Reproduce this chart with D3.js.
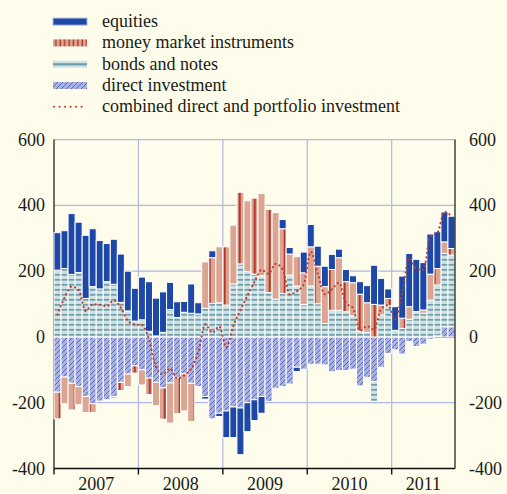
<!DOCTYPE html>
<html><head><meta charset="utf-8">
<script src="https://cdn.jsdelivr.net/npm/d3@7"></script>
<style>
html,body{margin:0;padding:0;background:#fefdeb;}
svg{display:block;}
text{font-family:"Liberation Serif","Times New Roman",serif;}
</style></head><body>
<svg id="c" width="507" height="494"></svg>
<script>
// ---- data (USD bn, monthly, Jan 2007 - Sep 2011) ----
const years = ["2007","2008","2009","2010","2011"];
const monthsPerYear = [12,12,12,12,9];
const equities = [114,115,185,153,192,176,147,116,137,147,121,100,
  130,151,115,123,83,48,33,89,34,-8,21,-10,
  -81,-93,-142,-88,-63,-51,0,0,28,20,-13,63,
  68,61,62,46,26,37,21,38,52,119,81,29,
  72,128,162,159,144,122,112,91,98];
const moneyMarket = [-81,-81,-81,-55,-49,-27,0,0,-5,-25,-38,-22,
  -46,-50,-71,-95,-122,-110,-113,-116,0,141,139,170,
  177,179,218,215,231,250,253,263,197,64,89,96,
  119,114,112,124,160,91,101,112,90,99,30,22,
  0,31,38,0,10,79,50,35,20];
const bondsNotes = [203,208,190,196,117,153,146,168,160,105,79,48,
  52,17,3,14,83,59,75,72,70,87,102,104,
  97,161,222,199,191,186,135,115,132,188,155,99,
  155,101,41,81,81,77,64,18,14,-60,67,95,
  20,26,54,77,72,112,155,223,218];
const directInv = [-168,-122,-141,-151,-181,-203,-195,-191,-181,-138,-113,-88,
  -100,-125,-138,-155,-140,-123,-112,-141,-151,-181,-249,-232,
  -225,-213,-216,-200,-191,-181,-196,-156,-151,-143,-92,-98,
  -83,-83,-85,-106,-102,-102,-98,-149,-123,-136,-92,-50,
  -39,-52,-14,-29,-22,-7,3,31,31];
const combined = [68,120,153,143,79,99,98,93,111,89,49,38,
  36,-7,-91,-113,-96,-126,-117,-96,-47,39,13,32,
  -32,34,82,126,168,204,192,222,206,129,139,160,
  259,193,130,145,165,103,88,19,33,22,86,96,
  53,133,240,207,204,306,317,380,367];
const yTicks = [600,400,200,0,-200,-400];
const gridValues = [600,400,200,-200];
const legendLabels = ["equities","money market instruments","bonds and notes","direct investment","combined direct and portfolio investment"];

// ---- build ----
const months = [];
years.forEach((yr,k)=>{for(let m=1;m<=monthsPerYear[k];m++) months.push(yr+"-"+String(m).padStart(2,"0"));});
const table = months.map((m,i)=>({month:m, di:directInv[i], bonds:bondsNotes[i], mm:moneyMarket[i], eq:equities[i]}));

const svg = d3.select("#c");
const L=54, R=455;
const x = d3.scaleBand().domain(months).range([L,R]).paddingInner(0).paddingOuter(0);
const y = d3.scaleLinear().domain([-400,600]).range([468.5,139.6]);
const bw = x.bandwidth();
const SERIF = "Liberation Serif, Times New Roman, serif";

svg.append("rect").attr("width",507).attr("height",494).attr("fill","#fefdeb");

const defs = svg.append("defs");
// money market pattern in bars: salmon with a sparse dark red stripe
const mmP = defs.append("pattern").attr("id","mmPat").attr("patternUnits","userSpaceOnUse")
  .attr("x",238.7).attr("y",0).attr("width",15).attr("height",10);
mmP.append("rect").attr("width",15).attr("height",10).attr("fill","#dba592");
mmP.append("rect").attr("x",0).attr("width",2).attr("height",10).attr("fill","#b2372a");
// legend mm pattern
const mmL = defs.append("pattern").attr("id","mmLeg").attr("patternUnits","userSpaceOnUse")
  .attr("x",53).attr("y",0).attr("width",4.4).attr("height",10);
mmL.append("rect").attr("width",4.4).attr("height",10).attr("fill","#dba592");
mmL.append("rect").attr("x",2.2).attr("width",1.4).attr("height",10).attr("fill","#b2372a");
// bonds pattern
const bP = defs.append("pattern").attr("id","bondPat").attr("patternUnits","userSpaceOnUse")
  .attr("x",0).attr("y",y(0)).attr("width",10).attr("height",5);
bP.append("rect").attr("width",10).attr("height",5).attr("fill","#cfe2e4");
bP.append("rect").attr("y",2).attr("width",10).attr("height",1.7).attr("fill","#6d9ca9");
// direct investment hatch
const dP = defs.append("pattern").attr("id","diPat").attr("patternUnits","userSpaceOnUse")
  .attr("width",5).attr("height",5);
dP.append("rect").attr("width",5).attr("height",5).attr("fill","#aab2e2");
dP.append("path").attr("d","M0,5L5,0M-1,1L1,-1M4,6L6,4").attr("stroke","#4455b8").attr("stroke-width",0.8);

// grid
svg.append("g").selectAll("line").data(gridValues).join("line")
  .attr("x1",L).attr("x2",R).attr("y1",d=>y(d)).attr("y2",d=>y(d))
  .attr("stroke","#b2b6e2").attr("stroke-width",1.2);
const yearStarts = years.map(yr=>x(yr+"-01"));
svg.append("g").selectAll("line").data(yearStarts.slice(1)).join("line")
  .attr("x1",d=>d).attr("x2",d=>d).attr("y1",y(600)).attr("y2",y(-400))
  .attr("stroke","#b2b6e2").attr("stroke-width",1.2);

// axes lines under bars
svg.append("line").attr("x1",L).attr("x2",L).attr("y1",y(600)).attr("y2",y(-400)).attr("stroke","#111").attr("stroke-width",1.2);
svg.append("line").attr("x1",L).attr("x2",R).attr("y1",y(0)).attr("y2",y(0)).attr("stroke","#111").attr("stroke-width",1.2);

// bars
const series = d3.stack().keys(["di","bonds","mm","eq"]).offset(d3.stackOffsetDiverging)(table);
const fills = {eq:"#1d48a6", mm:"url(#mmPat)", bonds:"url(#bondPat)", di:"url(#diPat)"};
series.forEach(s=>{
  svg.append("g").selectAll("rect").data(s.filter(d=>d[0]!==d[1])).join("rect")
    .attr("x",d=>x(d.data.month)).attr("width",bw)
    .attr("y",d=>y(Math.max(d[0],d[1]))).attr("height",d=>Math.abs(y(d[0])-y(d[1])))
    .attr("fill",fills[s.key]).attr("stroke","#ffffff").attr("stroke-width",1);
});

// combined line
const line = d3.line().x((d,i)=>x(months[i])+bw/2).y(d=>y(d)).curve(d3.curveMonotoneX);
svg.append("path").datum(combined).attr("d",line).attr("fill","none")
  .attr("stroke","#c23b30").attr("stroke-width",2.2).attr("stroke-linecap","round")
  .attr("stroke-dasharray","0.1 4.3");

// right and bottom axes
svg.append("line").attr("x1",R).attr("x2",R).attr("y1",y(600)).attr("y2",y(-400)).attr("stroke","#111").attr("stroke-width",1.2);
svg.append("line").attr("x1",L).attr("x2",R).attr("y1",y(-400)).attr("y2",y(-400)).attr("stroke","#111").attr("stroke-width",1.4);
svg.append("g").selectAll("line").data(yearStarts).join("line")
  .attr("x1",d=>d).attr("x2",d=>d).attr("y1",y(-400)).attr("y2",y(-400)+6)
  .attr("stroke","#111").attr("stroke-width",1.4);

// tick labels
svg.append("g").selectAll("text").data(yTicks).join("text")
  .attr("x",45).attr("y",d=>y(d)+6).attr("text-anchor","end").attr("font-family",SERIF)
  .attr("font-size",18).attr("fill","#1a1a1a").text(d=>d);
svg.append("g").selectAll("text").data(yTicks).join("text")
  .attr("x",469).attr("y",d=>y(d)+6).attr("text-anchor","start").attr("font-family",SERIF)
  .attr("font-size",18).attr("fill","#1a1a1a").text(d=>d);
svg.append("g").selectAll("text").data(years).join("text")
  .attr("x",(d)=>{const a=x(d+"-01"); const last=months.filter(m=>m.startsWith(d)).pop(); return (a+x(last)+bw)/2;})
  .attr("y",490).attr("text-anchor","middle").attr("font-family",SERIF)
  .attr("font-size",18).attr("fill","#1a1a1a").text(d=>d);

// legend
const lg = svg.append("g");
const cy = k=>21.6+21.3*k;
lg.append("rect").attr("x",53).attr("y",cy(0)-3.5).attr("width",34).attr("height",7).attr("fill","#1d48a6").attr("stroke","#a7b6e0").attr("stroke-width",1);
lg.append("rect").attr("x",53).attr("y",cy(1)-3.5).attr("width",34).attr("height",7).attr("fill","url(#mmLeg)");
lg.append("rect").attr("x",53).attr("y",cy(2)-3.5).attr("width",34).attr("height",7).attr("fill","#cfe2e4");
lg.append("rect").attr("x",53).attr("y",cy(2)-1).attr("width",34).attr("height",2.2).attr("fill","#6d9ca9");
lg.append("rect").attr("x",53).attr("y",cy(3)-3.5).attr("width",34).attr("height",7).attr("fill","url(#diPat)");
lg.append("line").attr("x1",54).attr("x2",87).attr("y1",cy(4)).attr("y2",cy(4))
  .attr("stroke","#c23b30").attr("stroke-width",2).attr("stroke-linecap","round").attr("stroke-dasharray","0.1 5.4");
lg.selectAll("text").data(legendLabels).join("text")
  .attr("x",102).attr("y",(d,k)=>cy(k)+5.5).attr("font-family",SERIF)
  .attr("font-size",18).attr("fill","#1a1a1a").text(d=>d);
</script>
</body></html>
